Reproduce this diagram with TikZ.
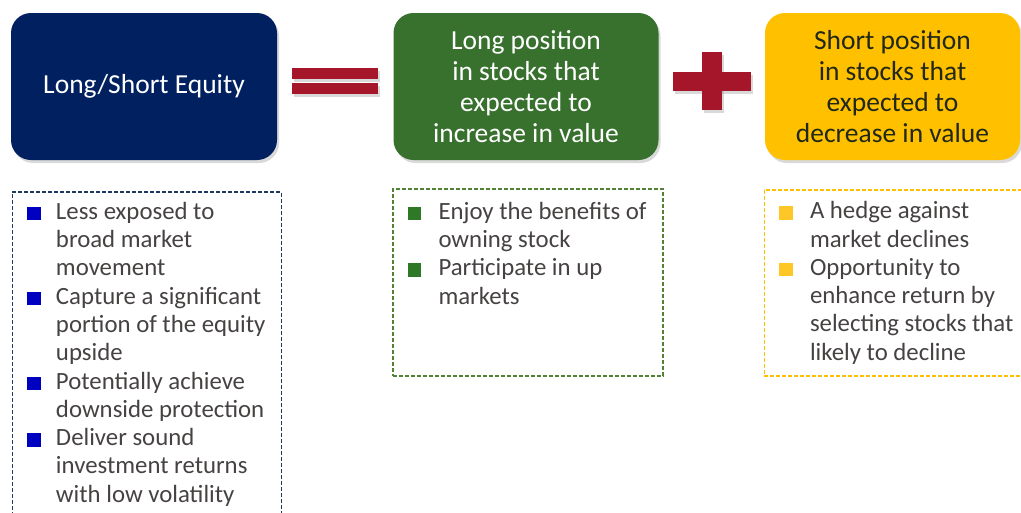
\documentclass[tikz,border=0pt]{standalone}
\usepackage{fontspec}
\setmainfont{Carlito}
\usepackage{xcolor}
\usepackage{tikz}
\usetikzlibrary{positioning,shadows}

\definecolor{navyfill}{RGB}{0,32,96}
\definecolor{longfill}{RGB}{56,112,46}
\definecolor{shortfill}{RGB}{255,192,0}
\definecolor{signred}{RGB}{166,22,42}
\definecolor{navyline}{RGB}{31,56,100}
\definecolor{longline}{RGB}{84,130,53}
\definecolor{blueb}{RGB}{0,0,192}
\definecolor{greenb}{RGB}{46,120,40}
\definecolor{yellowb}{RGB}{255,198,40}
\definecolor{bodytext}{RGB}{70,66,66}
\definecolor{darktext}{RGB}{34,40,24}

\newcommand{\bsq}[1]{\textcolor{#1}{\rule[-1pt]{13.5pt}{13.5pt}}}

\begin{document}
\begin{tikzpicture}[
    x=1pt, y=-1pt,
    shade/.style = {drop shadow={shadow xshift=2pt, shadow yshift=-3pt,
                    opacity=0.3}},
    top/.style   = {shade, rounded corners=20pt, align=center,
                    inner sep=4pt, minimum height=147pt,
                    font=\fontsize{27.5}{31}\selectfont},
    bar/.style   = {shade, fill=signred, inner sep=0pt},
    pros/.style  = {dash pattern=on 4pt off 2pt, line width=1.3pt,
                    inner sep=0pt, minimum width=270pt},
    blist/.style = {anchor=north west, inner sep=0pt, text=bodytext,
                    font=\fontsize{24.8}{28.3}\selectfont},
]
\useasboundingbox (0,0) rectangle (1021,512);

% ============ Top row: strategy = long + short ============
\node[top, fill=navyfill, text=white, minimum width=266pt]
    (lse) at (144,86.5) {Long/Short Equity};
\node[top, fill=longfill, text=white, minimum width=265pt]
    (long) at (526,86.5)
    {Long position\\in stocks that\\expected to\\increase in value};
\node[top, fill=shortfill, text=darktext, minimum width=255pt]
    (short) at (892.5,86.5)
    {Short position\\in stocks that\\expected to\\decrease in value};

% equals and plus signs
\node[bar, minimum width=86pt, minimum height=11pt] (eqa) at (335,73.5) {};
\node[bar, minimum width=86pt, minimum height=11pt] (eqb) at (335,88.5) {};
\node[bar, minimum width=78pt, minimum height=19pt] (plush) at (712,81.5) {};
\node[bar, minimum width=20pt, minimum height=58pt] (plusv) at (712,81) {};
\fill[signred] (plush.north west) rectangle (plush.south east);

% ============ Bottom row: dashed boxes with bullets ============
\node[pros, draw=navyline, minimum width=269pt, minimum height=330pt,
      below=31pt of lse.south west, anchor=north west, xshift=1pt] (lsebox) {};
\node[pros, draw=longline, minimum height=187pt,
      below=28pt of long.south west, anchor=north west, xshift=-1pt] (longbox) {};
\node[pros, draw=shortfill, minimum height=186pt,
      below=29pt of short.south west, anchor=north west, xshift=-1pt] (shortbox) {};

\node[blist] (lsetext) at ([shift={(15,8)}]lsebox.north west)
    {\begin{tabular}{@{}p{29pt}@{}l@{}}
     \bsq{blueb} & Less exposed to\\
                 & broad market\\
                 & movement\\
     \bsq{blueb} & Capture a significant\\
                 & portion of the equity\\
                 & upside\\
     \bsq{blueb} & Potentially achieve\\
                 & downside protection\\
     \bsq{blueb} & Deliver sound\\
                 & investment returns\\
                 & with low volatility
     \end{tabular}};
\node[blist] (longtext) at ([shift={(15,11)}]longbox.north west)
    {\begin{tabular}{@{}p{31pt}@{}l@{}}
     \bsq{greenb} & Enjoy the benefits of\\
                  & owning stock\\
     \bsq{greenb} & Participate in up\\
                  & markets
     \end{tabular}};
\node[blist] (shorttext) at ([shift={(15,9.5)}]shortbox.north west)
    {\begin{tabular}{@{}p{31pt}@{}l@{}}
     \bsq{yellowb} & A hedge against\\
                   & market declines\\
     \bsq{yellowb} & Opportunity to\\
                   & enhance return by\\
                   & selecting stocks that\\
                   & likely to decline
     \end{tabular}};

\end{tikzpicture}
\end{document}
